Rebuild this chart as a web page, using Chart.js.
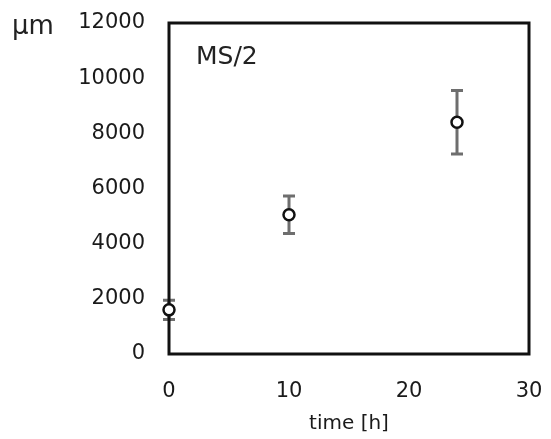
<!DOCTYPE html>
<html>
<head>
<meta charset="utf-8">
<script src="https://cdn.jsdelivr.net/npm/chart.js@4"></script>
<style>
  html, body { margin: 0; padding: 0; background: #fff; }
  #wrap { width: 551px; height: 439px; position: relative; }
</style>
</head>
<body>
<div id="wrap"><canvas id="grafico"></canvas></div>
<script>
// Datos: longitud media (µm) con su error a cada tiempo
const tiempoH = [0, 10, 24];
const longitudMedia = [1600, 5050, 8400];
const longitudError = [350, 680, 1150];
const ticksY = [0, 2000, 4000, 6000, 8000, 10000, 12000];
const ticksX = [0, 10, 20, 30];

const fuente = "'DejaVu Sans', sans-serif";

// Marco del área de trazado y barras de error
const pluginMarcoYErrores = {
    id: 'marcoYErrores',
    beforeDatasetsDraw(chart) {
        const { ctx, chartArea: a, scales: { x, y } } = chart;
        ctx.save();

        // barras de error
        ctx.strokeStyle = '#6e6e6e';
        ctx.lineWidth = 3;
        const media = 6;
        tiempoH.forEach((t, i) => {
            const px = x.getPixelForValue(t);
            const yArr = y.getPixelForValue(longitudMedia[i] + longitudError[i]);
            const yAba = y.getPixelForValue(longitudMedia[i] - longitudError[i]);
            ctx.beginPath();
            ctx.moveTo(px, yArr);
            ctx.lineTo(px, yAba);
            ctx.moveTo(px - media, yArr);
            ctx.lineTo(px + media, yArr);
            ctx.moveTo(px - media, yAba);
            ctx.lineTo(px + media, yAba);
            ctx.stroke();
        });

        // marco
        ctx.strokeStyle = '#111';
        ctx.lineWidth = 3;
        ctx.strokeRect(a.left, a.top, a.right - a.left, a.bottom - a.top);

        // rótulos de texto
        ctx.fillStyle = '#222';
        ctx.textBaseline = 'alphabetic';
        ctx.textAlign = 'left';
        ctx.font = "26px " + fuente;
        ctx.fillText('µm', 12, 34);
        ctx.font = "25px " + fuente;
        ctx.fillText('MS/2', 196, 64);
        ctx.restore();
    }
};

const ctx = document.getElementById('grafico').getContext('2d');
new Chart(ctx, {
    type: 'scatter',
    data: {
        datasets: [{
            label: 'MS/2',
            data: tiempoH.map((t, i) => ({ x: t, y: longitudMedia[i] })),
            pointRadius: 5.5,
            pointBorderWidth: 2.5,
            pointBackgroundColor: '#fff',
            pointBorderColor: '#111',
            showLine: false,
            clip: false
        }]
    },
    options: {
        responsive: true,
        maintainAspectRatio: false,
        animation: false,
        layout: { padding: { left: 0, right: 22, top: 23, bottom: 0 } },
        plugins: {
            legend: { display: false },
            tooltip: { enabled: false }
        },
        scales: {
            x: {
                type: 'linear',
                min: 0,
                max: 30,
                afterFit: s => { s.height = 85; s.paddingLeft = 0; s.paddingRight = 0; },
                afterBuildTicks: s => { s.ticks = ticksX.map(v => ({ value: v })); },
                grid: { display: false, drawTicks: false },
                border: { display: false },
                ticks: {
                    padding: 25,
                    color: '#1a1a1a',
                    font: { family: fuente, size: 21 },
                    callback: v => String(v)
                },
                title: {
                    display: true,
                    text: 'time [h]',
                    color: '#1a1a1a',
                    padding: { top: 0, bottom: 3 },
                    font: { family: fuente, size: 20 }
                }
            },
            y: {
                type: 'linear',
                min: 0,
                max: 12000,
                afterFit: s => { s.width = 169; s.paddingTop = 0; s.paddingBottom = 0; },
                afterBuildTicks: s => { s.ticks = ticksY.map(v => ({ value: v })); },
                grid: { display: false, drawTicks: false },
                border: { display: false },
                ticks: {
                    padding: 24,
                    color: '#1a1a1a',
                    font: { family: fuente, size: 21 },
                    callback: v => String(v)
                }
            }
        }
    },
    plugins: [pluginMarcoYErrores]
});
</script>
</body>
</html>
